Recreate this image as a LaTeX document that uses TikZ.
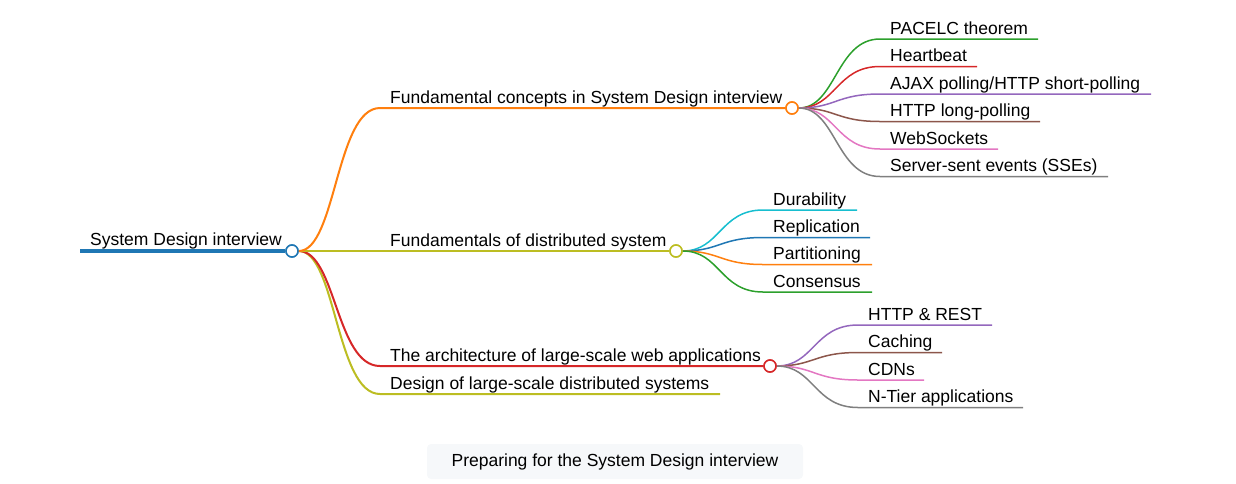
\documentclass[tikz,border=0pt]{standalone}
\usepackage{fontspec}
\setmainfont{Liberation Sans}
\definecolor{cblue}{HTML}{1F77B4}
\definecolor{corange}{HTML}{FF7F0E}
\definecolor{cgreen}{HTML}{2CA02C}
\definecolor{cred}{HTML}{D62728}
\definecolor{cpurple}{HTML}{9467BD}
\definecolor{cbrown}{HTML}{8C564B}
\definecolor{cpink}{HTML}{E377C2}
\definecolor{cgray}{HTML}{7F7F7F}
\definecolor{colive}{HTML}{BCBD22}
\definecolor{ccyan}{HTML}{17BECF}
\definecolor{capbg}{HTML}{F6F8FA}
\begin{document}
\begin{tikzpicture}[x=1pt,y=-1pt,
  lbl/.style={anchor=base west, inner sep=0pt, font=\fontsize{17.5}{21}\selectfont},
  dot/.style={circle, draw=#1, fill=white, line width=1.5pt, minimum size=12pt, inner sep=0pt},
  lvl1/.style={draw=#1, line width=2pt},
  lvl2/.style={draw=#1, line width=1.5pt}]
\useasboundingbox (0,0) rectangle (1236,483);

% root
\coordinate (r0) at (80,251);
\node[dot=cblue] (r) at (292,251) {};
\node[lbl] (tr) at (90,245.5) {System Design interview};

% level-1 nodes
\node[dot=corange] (b1) at (792,108) {};
\node[dot=colive] (b2) at (676,251) {};
\node[dot=cred] (b3) at (770,366) {};
\coordinate (b4) at (720,394);

\node[lbl] (t1) at (390,103) {Fundamental concepts in System Design interview};
\node[lbl] (t2) at (390,246) {Fundamentals of distributed system};
\node[lbl] (t3) at (390,361) {The architecture of large-scale web applications};
\node[lbl] (t4) at (390,389) {Design of large-scale distributed systems};

% level-1 connectors
\draw[lvl1=colive] (r) .. controls (336,251) and (336,394) .. (380,394) -- (b4);
\draw[lvl1=cred] (r) .. controls (336,251) and (336,366) .. (380,366) -- (b3);
\draw[lvl1=colive] (r) -- (b2);
\draw[lvl1=corange] (r) .. controls (336,251) and (336,108) .. (380,108) -- (b1);
\draw[cblue, line width=4pt] (r0) -- (r);

% leaves of branch 1
\coordinate (e11) at (1038,39);
\coordinate (e12) at (977,66.5);
\coordinate (e13) at (1151,94);
\coordinate (e14) at (1040,121.5);
\coordinate (e15) at (998,149);
\coordinate (e16) at (1108,176.5);
\draw[lvl2=cgreen] (b1) .. controls (836,108) and (836,39) .. (880,39) -- (e11);
\draw[lvl2=cred] (b1) .. controls (836,108) and (836,66.5) .. (880,66.5) -- (e12);
\draw[lvl2=cpurple] (b1) .. controls (836,108) and (836,94) .. (880,94) -- (e13);
\draw[lvl2=cbrown] (b1) .. controls (836,108) and (836,121.5) .. (880,121.5) -- (e14);
\draw[lvl2=cpink] (b1) .. controls (836,108) and (836,149) .. (880,149) -- (e15);
\draw[lvl2=cgray] (b1) .. controls (836,108) and (836,176.5) .. (880,176.5) -- (e16);
\node[lbl] (l11) at (890,34) {PACELC theorem};
\node[lbl] (l12) at (890,61.5) {Heartbeat};
\node[lbl] (l13) at (890,89) {AJAX polling/HTTP short-polling};
\node[lbl] (l14) at (890,116.5) {HTTP long-polling};
\node[lbl] (l15) at (890,144) {WebSockets};
\node[lbl] (l16) at (890,171.5) {Server-sent events (SSEs)};

% leaves of branch 2
\coordinate (e21) at (857,210);
\coordinate (e22) at (870,237.5);
\coordinate (e23) at (872,264.5);
\coordinate (e24) at (872,292);
\draw[lvl2=ccyan] (b2) .. controls (720,251) and (720,210) .. (763,210) -- (e21);
\draw[lvl2=cblue] (b2) .. controls (720,251) and (720,237.5) .. (763,237.5) -- (e22);
\draw[lvl2=corange] (b2) .. controls (720,251) and (720,264.5) .. (763,264.5) -- (e23);
\draw[lvl2=cgreen] (b2) .. controls (720,251) and (720,292) .. (763,292) -- (e24);
\node[lbl] (l21) at (773,205) {Durability};
\node[lbl] (l22) at (773,232.5) {Replication};
\node[lbl] (l23) at (773,259.5) {Partitioning};
\node[lbl] (l24) at (773,287) {Consensus};

% leaves of branch 3
\coordinate (e31) at (992,325);
\coordinate (e32) at (942,352.5);
\coordinate (e33) at (924,380);
\coordinate (e34) at (1023,407.5);
\draw[lvl2=cpurple] (b3) .. controls (814,366) and (814,325) .. (858,325) -- (e31);
\draw[lvl2=cbrown] (b3) .. controls (814,366) and (814,352.5) .. (858,352.5) -- (e32);
\draw[lvl2=cpink] (b3) .. controls (814,366) and (814,380) .. (858,380) -- (e33);
\draw[lvl2=cgray] (b3) .. controls (814,366) and (814,407.5) .. (858,407.5) -- (e34);
\node[lbl] (l31) at (868,320) {HTTP \& REST};
\node[lbl] (l32) at (868,347.5) {Caching};
\node[lbl] (l33) at (868,375) {CDNs};
\node[lbl] (l34) at (868,402.5) {N-Tier applications};

% redraw circles on top
\node[dot=cblue] at (r) {};
\node[dot=corange] at (b1) {};
\node[dot=colive] at (b2) {};
\node[dot=cred] at (b3) {};

% caption
\node[fill=capbg, rounded corners=4pt, minimum width=376pt, minimum height=35pt, inner sep=0pt,
  font=\fontsize{17.5}{21}\selectfont] (cap) at (615,461.5) {Preparing for the System Design interview};
\end{tikzpicture}
\end{document}
